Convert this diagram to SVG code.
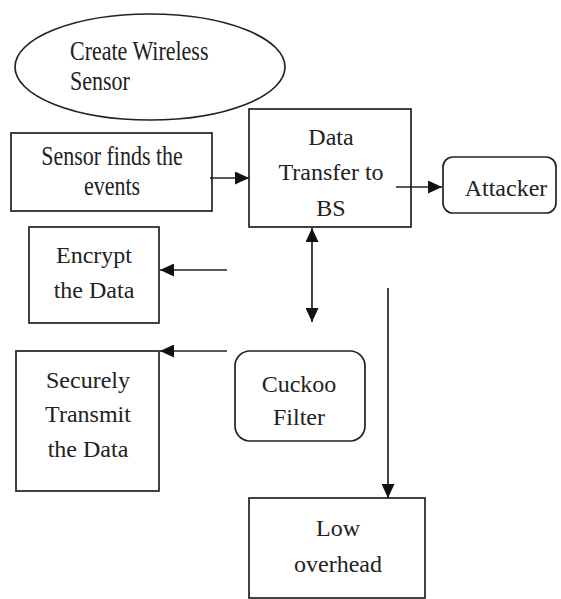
<svg xmlns="http://www.w3.org/2000/svg" width="561" height="599" viewBox="0 0 561 599">
<style>
.s{fill:#fff;stroke:#222;stroke-width:1.7}
.t{font-size:24px;fill:#222;text-anchor:middle}
.ts{font-size:22px;fill:#222}
.c{stroke:#222;stroke-width:1.7;fill:none}
</style>
<defs>
<marker id="ah" viewBox="0 0 14 13" refX="14" refY="6.5" markerWidth="14" markerHeight="13" markerUnits="userSpaceOnUse" orient="auto-start-reverse">
<path d="M0,0 L14,6.5 L0,13 Z" fill="#111"/>
</marker>
</defs>
<rect width="561" height="599" fill="#fff"/>
<g font-family="Liberation Serif, Tinos, DejaVu Serif, serif">
<g id="create">
<ellipse class="s" cx="150" cy="67" rx="135" ry="53"/>
<text class="ts" transform="translate(70,60) scale(1,1.22)">Create Wireless</text>
<text class="ts" transform="translate(70,90) scale(1,1.22)">Sensor</text>
</g>
<g id="sensor">
<rect class="s" x="11" y="133" width="201" height="78"/>
<text class="ts" text-anchor="middle" transform="translate(112,165) scale(1,1.22)">Sensor finds the</text>
<text class="ts" text-anchor="middle" transform="translate(112,195) scale(1,1.22)">events</text>
</g>
<g id="data">
<rect class="s" x="249" y="109" width="162" height="118"/>
<text class="t" x="331" y="145">Data</text>
<text class="t" x="331" y="180">Transfer to</text>
<text class="t" x="331" y="216">BS</text>
</g>
<g id="attacker">
<rect class="s" x="443" y="157" width="113" height="56" rx="10"/>
<text class="t" x="506" y="196">Attacker</text>
</g>
<g id="encrypt">
<rect class="s" x="29" y="227" width="130" height="96"/>
<text class="t" x="94" y="263">Encrypt</text>
<text class="t" x="94" y="298">the Data</text>
</g>
<g id="securely">
<rect class="s" x="16" y="351" width="143" height="140"/>
<text class="t" x="88" y="388">Securely</text>
<text class="t" x="88" y="422">Transmit</text>
<text class="t" x="88" y="457">the Data</text>
</g>
<g id="cuckoo">
<rect class="s" x="235" y="351" width="130" height="90" rx="15"/>
<text class="t" x="299" y="392">Cuckoo</text>
<text class="t" x="299" y="425">Filter</text>
</g>
<g id="low">
<rect class="s" x="249" y="498" width="176" height="100"/>
<text class="t" x="338" y="536">Low</text>
<text class="t" x="338" y="572">overhead</text>
</g>
</g>
<g id="connectors">
<line class="c" x1="210" y1="178" x2="249" y2="178" marker-end="url(#ah)"/>
<line class="c" x1="396" y1="187" x2="442" y2="187" marker-end="url(#ah)"/>
<line class="c" x1="312" y1="228" x2="312" y2="322" marker-start="url(#ah)" marker-end="url(#ah)"/>
<line class="c" x1="227" y1="270" x2="160" y2="270" marker-end="url(#ah)"/>
<line class="c" x1="227" y1="351" x2="160" y2="351" marker-end="url(#ah)"/>
<line class="c" x1="388" y1="288" x2="388" y2="498" marker-end="url(#ah)"/>
</g>
</svg>
